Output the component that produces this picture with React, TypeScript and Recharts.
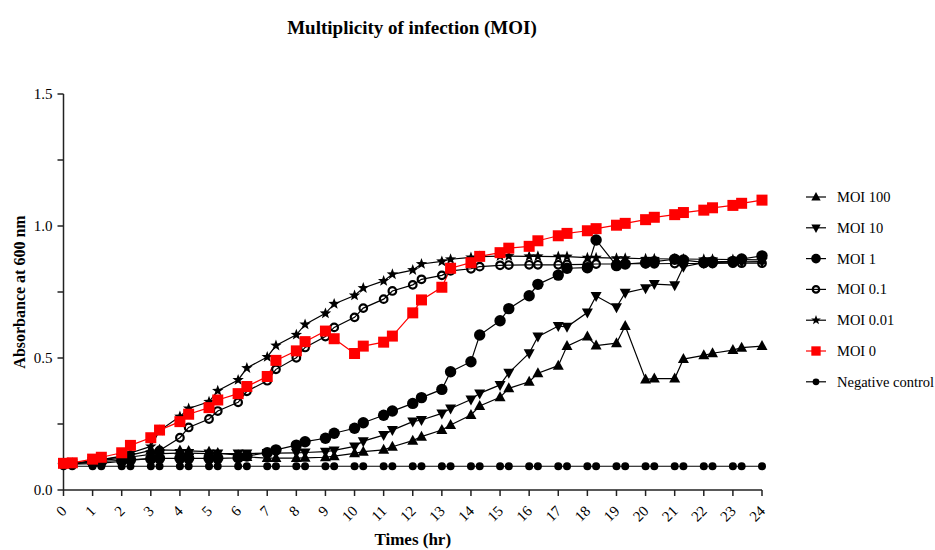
import { CartesianGrid, Line, LineChart, XAxis, YAxis } from "recharts";

const FONT = "'Liberation Serif', 'Times New Roman', serif";

// sampling times (hr)
const times = [
    0, 0.3, 1, 1.3, 2, 2.3, 3, 3.3, 4, 4.3, 5, 5.3, 6, 6.3, 7, 7.3, 8, 8.3, 9, 9.3, 10, 10.3,
    11, 11.3, 12, 12.3, 13, 13.3, 14, 14.3, 15, 15.3, 16, 16.3, 17, 17.3, 18, 18.3, 19, 19.3,
    20, 20.3, 21, 21.3, 22, 22.3, 23, 23.3, 24,
];

const moi100 = [
    0.1, 0.1, 0.11, 0.115, 0.125, 0.132, 0.15, 0.152, 0.15, 0.148, 0.145, 0.14, 0.132, 0.125,
    0.121, 0.121, 0.121, 0.122, 0.124, 0.128, 0.139, 0.145, 0.152, 0.164, 0.187, 0.202, 0.227,
    0.246, 0.284, 0.318, 0.351, 0.385, 0.41, 0.442, 0.471, 0.545, 0.581, 0.547, 0.556, 0.621,
    0.419, 0.422, 0.422, 0.496, 0.51, 0.518, 0.53, 0.539, 0.545,
];

const moi10 = [
    0.1, 0.1, 0.108, 0.112, 0.12, 0.125, 0.135, 0.138, 0.14, 0.14, 0.138, 0.138, 0.138, 0.138,
    0.14, 0.14, 0.141, 0.142, 0.145, 0.15, 0.165, 0.185, 0.208, 0.227, 0.259, 0.265, 0.29,
    0.309, 0.343, 0.366, 0.398, 0.444, 0.518, 0.581, 0.621, 0.618, 0.672, 0.735, 0.692, 0.747,
    0.764, 0.78, 0.776, 0.846, 0.861, 0.862, 0.863, 0.864, 0.865,
];

const moi1 = [
    0.1, 0.1, 0.105, 0.108, 0.112, 0.115, 0.118, 0.12, 0.12, 0.12, 0.12, 0.12, 0.122, 0.129,
    0.141, 0.152, 0.17, 0.183, 0.196, 0.215, 0.234, 0.255, 0.283, 0.299, 0.328, 0.35, 0.381,
    0.448, 0.486, 0.587, 0.641, 0.687, 0.736, 0.779, 0.814, 0.84, 0.842, 0.947, 0.85, 0.856,
    0.861, 0.865, 0.874, 0.871, 0.862, 0.864, 0.866, 0.875, 0.887,
];

const moi01 = [
    0.098, 0.098, 0.1, 0.102, 0.108, 0.112, 0.12, 0.15, 0.198, 0.237, 0.269, 0.299, 0.332,
    0.374, 0.414, 0.457, 0.501, 0.54, 0.581, 0.616, 0.654, 0.689, 0.723, 0.754, 0.777, 0.798,
    0.813, 0.83, 0.838, 0.846, 0.851, 0.852, 0.853, 0.853, 0.853, 0.854, 0.855, 0.856, 0.856,
    0.857, 0.857, 0.857, 0.858, 0.858, 0.858, 0.858, 0.859, 0.859, 0.859,
];

const moi001 = [
    0.1, 0.1, 0.11, 0.115, 0.128, 0.14, 0.165, 0.225, 0.278, 0.309, 0.334, 0.376, 0.417, 0.462,
    0.504, 0.547, 0.588, 0.627, 0.669, 0.705, 0.737, 0.765, 0.792, 0.817, 0.833, 0.856, 0.866,
    0.874, 0.881, 0.884, 0.886, 0.886, 0.885, 0.885, 0.884, 0.884, 0.88, 0.88, 0.878, 0.878,
    0.876, 0.876, 0.875, 0.875, 0.874, 0.874, 0.873, 0.873, 0.872,
];

const moi0 = [
    0.101, 0.103, 0.117, 0.124, 0.141, 0.169, 0.198, 0.227, 0.259, 0.287, 0.312, 0.341, 0.365,
    0.392, 0.43, 0.491, 0.527, 0.562, 0.602, 0.573, 0.517, 0.545, 0.56, 0.583, 0.671, 0.72,
    0.768, 0.84, 0.861, 0.885, 0.899, 0.916, 0.923, 0.944, 0.963, 0.972, 0.982, 0.99, 1.003,
    1.01, 1.024, 1.033, 1.043, 1.051, 1.06, 1.069, 1.078, 1.086, 1.098,
];

const negControl = times.map(() => 0.09);

const xTicks = [0, 1, 2, 3, 4, 5, 6, 7, 8, 9, 10, 11, 12, 13, 14, 15, 16, 17, 18, 19, 20, 21, 22, 23, 24];
const yTicks = [0, 0.25, 0.5, 0.75, 1, 1.25, 1.5];

const series = [
    { key: "neg", name: "Negative control", values: negControl, shape: "dot", color: "#000" },
    { key: "m100", name: "MOI 100", values: moi100, shape: "up", color: "#000" },
    { key: "m10", name: "MOI 10", values: moi10, shape: "down", color: "#000" },
    { key: "m1", name: "MOI 1", values: moi1, shape: "circle", color: "#000" },
    { key: "m01", name: "MOI 0.1", values: moi01, shape: "ring", color: "#000" },
    { key: "m001", name: "MOI 0.01", values: moi001, shape: "star", color: "#000" },
    { key: "m0", name: "MOI 0", values: moi0, shape: "square", color: "#ff0000" },
];

const legendOrder = ["m100", "m10", "m1", "m01", "m001", "m0", "neg"];

const data = times.map((t, i) => {
    const row: Record<string, number> = { t };
    series.forEach((s) => {
        row[s.key] = s.values[i];
    });
    return row;
});

function starPath(cx: number, cy: number, outer: number, inner: number) {
    let d = "";
    for (let i = 0; i < 10; i++) {
        const r = i % 2 === 0 ? outer : inner;
        const a = -Math.PI / 2 + (i * Math.PI) / 5;
        d += `${i === 0 ? "M" : "L"}${cx + r * Math.cos(a)},${cy + r * Math.sin(a)}`;
    }
    return d + "Z";
}

function Marker({ shape, cx, cy, color, scale = 1 }: { shape: string; cx: number; cy: number; color: string; scale?: number }) {
    const s = scale;
    switch (shape) {
        case "up":
            return <polygon points={`${cx},${cy - 6 * s} ${cx + 5.5 * s},${cy + 4 * s} ${cx - 5.5 * s},${cy + 4 * s}`} fill={color} />;
        case "down":
            return <polygon points={`${cx},${cy + 6 * s} ${cx + 5.5 * s},${cy - 4 * s} ${cx - 5.5 * s},${cy - 4 * s}`} fill={color} />;
        case "circle":
            return <circle cx={cx} cy={cy} r={5.7 * s} fill={color} />;
        case "ring":
            return <circle cx={cx} cy={cy} r={3.8 * s} fill="none" stroke={color} strokeWidth={2.2} />;
        case "star":
            return <path d={starPath(cx, cy, 6 * s, 2.5 * s)} fill={color} />;
        case "square":
            return <rect x={cx - 5.5 * s} y={cy - 5.5 * s} width={11 * s} height={11 * s} fill={color} />;
        default:
            return <circle cx={cx} cy={cy} r={4 * s} fill={color} />;
    }
}

function XTick({ x, y, payload }: any) {
    return (
        <g transform={`translate(${x + 4},${y + 14})`}>
            <text textAnchor="end" transform="rotate(-45)" fontSize={15} fontFamily={FONT} fill="#000">
                {payload.value}
            </text>
        </g>
    );
}

function YLabel({ viewBox }: any) {
    const cx = viewBox.x + 19;
    const cy = viewBox.y + viewBox.height / 2;
    return (
        <text x={cx} y={cy} transform={`rotate(-90, ${cx}, ${cy})`} textAnchor="middle" dominantBaseline="central"
            fontSize={16} fontWeight="bold" fontFamily={FONT} fill="#000">
            Absorbance at 600 nm
        </text>
    );
}

function XLabel({ viewBox }: any) {
    return (
        <text x={viewBox.x + viewBox.width / 2} y={viewBox.y + viewBox.height - 5} textAnchor="middle"
            fontSize={17} fontWeight="bold" fontFamily={FONT} fill="#000">
            Times (hr)
        </text>
    );
}

export default function App() {
    const legendItems = legendOrder.map((k) => series.find((s) => s.key === k)!);
    return (
        <div style={{ position: "absolute", left: 0, top: 0, width: 935, height: 550, background: "#fff" }}>
            <LineChart width={935} height={550} data={data} margin={{ top: 94, right: 173, left: 0, bottom: 0 }}>
                <CartesianGrid horizontal={false} vertical={false} />
                <XAxis
                    dataKey="t"
                    type="number"
                    domain={[0, 24]}
                    ticks={xTicks}
                    interval={0}
                    height={60}
                    tickSize={6}
                    tick={<XTick />}
                    axisLine={{ stroke: "#222", strokeWidth: 1.5 }}
                    tickLine={{ stroke: "#222", strokeWidth: 1.5 }}
                    label={<XLabel />}
                />
                <YAxis
                    type="number"
                    domain={[0, 1.5]}
                    ticks={yTicks}
                    width={63.5}
                    tickSize={6}
                    tickMargin={5}
                    interval={0}
                    tickFormatter={(v: number) => (Math.abs(v * 2 - Math.round(v * 2)) < 1e-9 ? v.toFixed(1) : "")}
                    tick={{ fontSize: 15, fontFamily: FONT, fill: "#000" }}
                    axisLine={{ stroke: "#222", strokeWidth: 1.5 }}
                    tickLine={{ stroke: "#222", strokeWidth: 1.5 }}
                    label={<YLabel />}
                />
                {series.map((s) => (
                    <Line
                        key={s.key}
                        dataKey={s.key}
                        name={s.name}
                        type="linear"
                        stroke={s.color}
                        strokeWidth={1.2}
                        isAnimationActive={false}
                        activeDot={false}
                        dot={(p: any) => (
                            <Marker key={`${s.key}-${p.index}`} shape={s.shape} cx={p.cx} cy={p.cy} color={s.color} />
                        )}
                    />
                ))}
            </LineChart>
            <svg width={935} height={550} style={{ position: "absolute", left: 0, top: 0, pointerEvents: "none" }}>
                <text x={412} y={34} textAnchor="middle" fontSize={19} fontWeight="bold" fontFamily={FONT} fill="#000">
                    Multiplicity of infection (MOI)
                </text>
                {legendItems.map((s, i) => {
                    const y = 197 + i * 30.8;
                    return (
                        <g key={s.key}>
                            <line x1={806} x2={826} y1={y} y2={y} stroke={s.color} strokeWidth={1.2} />
                            <Marker shape={s.shape} cx={816} cy={y} color={s.color} scale={0.85} />
                            <text x={837} y={y} dominantBaseline="central" fontSize={14.5} fontFamily={FONT} fill="#000">
                                {s.name}
                            </text>
                        </g>
                    );
                })}
            </svg>
        </div>
    );
}
